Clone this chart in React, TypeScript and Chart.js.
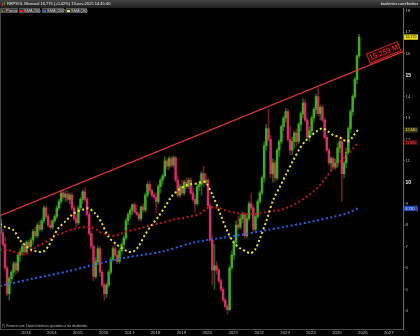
import React, { useEffect, useRef } from 'react';
import { Chart, registerables } from 'chart.js';

Chart.register(...registerables);

// ---- data (monthly candles, Jan 2012 .. Nov 2025) ----
const FIRST_YEAR = 2012;
const opens = [
  8.25, 7.65, 7.1, 6.0, 4.8, 5.5, 5.8, 6.2, 5.9, 6.6, 6.75, 7.0,
  6.75, 7.2, 7.0, 7.3, 7.7, 7.5, 8.0, 7.8, 8.2, 8.8, 8.4, 8.0,
  7.9, 8.2, 8.4, 8.8, 9.1, 9.5, 9.3, 9.45, 9.2, 9.4, 8.8, 8.3,
  8.1, 8.8, 9.2, 9.55, 9.2, 8.5, 7.6, 7.0, 5.6, 6.3, 6.9, 5.8,
  5.2, 4.8, 5.2, 5.8, 6.4, 6.9, 6.6, 6.3, 6.8, 7.1, 7.4, 8.2,
  8.5, 8.7, 8.95, 8.6, 8.5, 8.3, 8.85, 8.7, 9.4, 9.9, 9.6, 9.4,
  9.3, 9.1, 9.8, 10.1, 10.3, 11.0, 10.75, 11.1, 10.8, 11.15, 10.1, 9.4,
  9.8, 9.5, 10.0, 9.8, 10.1, 9.5, 9.2, 9.0, 9.8, 9.9, 10.4, 10.0,
  10.1, 8.9, 7.3, 5.9, 6.1, 5.9, 5.4, 5.0, 4.5, 4.2, 4.05, 6.0,
  6.6, 7.2, 8.0, 7.9, 8.3, 8.5, 7.5, 8.3, 9.0, 8.8, 7.8, 8.4,
  9.1, 9.5, 10.2, 11.7, 12.5, 12.0, 10.4, 10.9, 10.2, 11.5, 11.9, 12.6,
  13.0, 13.3, 12.0, 11.5, 11.9, 12.3, 11.9, 12.7, 13.2, 13.7, 12.9, 12.1,
  12.4, 13.0, 13.4, 14.0, 13.2, 13.5, 12.9, 12.1, 11.5, 10.9, 11.1, 10.7,
  10.9, 11.6, 11.9, 10.4, 10.9, 11.4, 12.5, 13.3, 14.0, 14.8, 15.9,
];
const highs = [
  8.5, 7.8, 7.45, 6.1, 5.6, 5.9, 6.3, 6.3, 6.7, 6.9, 7.1, 7.1,
  7.3, 7.3, 7.4, 7.8, 7.9, 8.1, 8.2, 8.3, 8.9, 8.9, 8.5, 8.2,
  8.25, 8.5, 8.9, 9.2, 9.6, 9.65, 9.6, 9.6, 9.5, 9.5, 8.9, 8.5,
  8.9, 9.3, 9.65, 9.75, 9.3, 8.6, 7.7, 7.1, 6.5, 7.0, 7.0, 5.9,
  5.3, 5.3, 5.9, 6.5, 7.0, 7.2, 6.8, 6.9, 7.2, 7.5, 8.3, 8.6,
  8.8, 9.0, 9.05, 8.95, 8.6, 8.9, 9.0, 9.5, 10.0, 10.05, 9.7, 9.5,
  9.5, 9.9, 10.2, 10.4, 11.2, 11.1, 11.2, 11.2, 11.25, 11.2, 10.3, 9.9,
  10.1, 10.1, 10.2, 10.2, 10.2, 9.8, 9.4, 9.9, 10.1, 10.5, 10.75, 10.4,
  10.2, 9.0, 7.5, 7.1, 6.3, 6.0, 5.5, 5.1, 4.6, 4.3, 6.1, 6.8,
  7.3, 8.2, 8.4, 8.5, 8.6, 8.6, 8.5, 9.1, 9.5, 8.9, 8.5, 9.2,
  9.6, 10.3, 11.9, 12.7, 13.4, 12.2, 11.1, 11.0, 11.6, 12.0, 12.7, 13.1,
  13.45, 13.4, 12.6, 12.1, 12.4, 12.5, 12.8, 13.3, 13.9, 13.85, 13.0, 12.6,
  13.1, 13.5, 14.1, 14.4, 13.6, 13.6, 13.0, 12.2, 11.6, 11.2, 11.2, 11.1,
  11.8, 12.0, 12.1, 11.0, 11.6, 12.6, 13.4, 14.1, 14.9, 15.95, 16.9,
];
const lows = [
  7.6, 7.0, 5.9, 4.7, 4.5, 5.3, 5.6, 5.7, 5.8, 6.3, 6.6, 6.6,
  6.7, 6.9, 6.9, 7.1, 7.4, 7.4, 7.7, 7.7, 8.1, 8.3, 7.9, 7.8,
  7.8, 8.1, 8.3, 8.7, 9.0, 9.2, 9.1, 9.1, 9.0, 8.7, 8.2, 7.9,
  8.0, 8.7, 9.0, 9.1, 8.4, 7.5, 6.9, 5.4, 5.5, 6.2, 5.6, 5.1,
  4.5, 4.6, 5.1, 5.7, 6.3, 6.5, 6.2, 6.2, 6.6, 6.9, 7.3, 8.0,
  8.3, 8.5, 8.55, 8.45, 8.2, 8.2, 8.6, 8.6, 9.3, 9.5, 9.3, 9.2,
  8.55, 9.0, 9.5, 9.9, 10.2, 10.6, 10.6, 10.7, 10.7, 10.0, 9.3, 9.3,
  9.4, 9.4, 9.7, 9.7, 9.4, 9.1, 8.6, 8.9, 9.6, 9.4, 9.8, 9.9,
  8.8, 7.2, 5.2, 5.0, 5.7, 5.3, 4.9, 4.4, 4.1, 3.85, 4.0, 5.9,
  6.4, 7.0, 7.8, 7.8, 8.1, 7.4, 7.4, 8.2, 8.7, 7.7, 7.7, 8.3,
  9.0, 9.4, 10.0, 11.5, 11.9, 10.2, 10.0, 10.0, 10.1, 11.2, 11.8, 12.4,
  12.8, 11.9, 11.3, 11.3, 11.6, 11.7, 11.8, 12.4, 13.0, 12.8, 12.0, 11.9,
  12.2, 12.8, 13.2, 13.1, 12.9, 12.8, 12.0, 11.4, 10.8, 10.5, 10.6, 10.6,
  10.7, 11.4, 9.1, 10.2, 10.7, 11.3, 12.3, 13.1, 13.9, 14.6, 15.8,
];
const closes = [
  7.65, 7.1, 6.0, 4.8, 5.5, 5.8, 6.2, 5.9, 6.6, 6.75, 7.0, 6.75,
  7.2, 7.0, 7.3, 7.7, 7.5, 8.0, 7.8, 8.2, 8.8, 8.4, 8.0, 7.9,
  8.2, 8.4, 8.8, 9.1, 9.5, 9.3, 9.45, 9.2, 9.4, 8.8, 8.3, 8.1,
  8.8, 9.2, 9.55, 9.2, 8.5, 7.6, 7.0, 5.6, 6.3, 6.9, 5.8, 5.2,
  4.8, 5.2, 5.8, 6.4, 6.9, 6.6, 6.3, 6.8, 7.1, 7.4, 8.2, 8.5,
  8.7, 8.95, 8.6, 8.5, 8.3, 8.85, 8.7, 9.4, 9.9, 9.6, 9.4, 9.3,
  9.1, 9.8, 10.1, 10.3, 11.0, 10.75, 11.1, 10.8, 11.15, 10.1, 9.4, 9.8,
  9.5, 10.0, 9.8, 10.1, 9.5, 9.2, 9.0, 9.8, 9.9, 10.4, 10.0, 10.1,
  8.9, 7.3, 5.9, 6.1, 5.9, 5.4, 5.0, 4.5, 4.2, 4.05, 6.0, 6.6,
  7.2, 8.0, 7.9, 8.3, 8.5, 7.5, 8.3, 9.0, 8.8, 7.8, 8.4, 9.1,
  9.5, 10.2, 11.7, 12.5, 12.0, 10.4, 10.9, 10.2, 11.5, 11.9, 12.6, 13.0,
  13.3, 12.0, 11.5, 11.9, 12.3, 11.9, 12.7, 13.2, 13.7, 12.9, 12.1, 12.4,
  13.0, 13.4, 14.0, 13.2, 13.5, 12.9, 12.1, 11.5, 10.9, 11.1, 10.7, 10.9,
  11.6, 11.9, 10.4, 10.9, 11.4, 12.5, 13.3, 14.0, 14.8, 15.9, 16.775,
];

// moving averages: time in years, value in EUR
const sma20X = [2012.0, 2012.19, 2012.51, 2012.77, 2013.03, 2013.22, 2013.48, 2013.67, 2013.86, 2014.06, 2014.25, 2014.51, 2014.77, 2014.96, 2015.21, 2015.41, 2015.67, 2015.92, 2016.18, 2016.44, 2016.7, 2016.95, 2017.14, 2017.34, 2017.59, 2017.85, 2018.11, 2018.37, 2018.62, 2018.88, 2019.14, 2019.4, 2019.65, 2019.84, 2019.97, 2020.23, 2020.49, 2020.75, 2021.0, 2021.26, 2021.52, 2021.65, 2021.84, 2022.03, 2022.29, 2022.54, 2022.8, 2023.06, 2023.32, 2023.57, 2023.77, 2023.96, 2024.23, 2024.46, 2024.67, 2024.86, 2025.05, 2025.18, 2025.38, 2025.57, 2025.7, 2025.82];
const sma20Y = [8.05, 7.92, 7.77, 7.3, 7.0, 6.84, 6.76, 6.76, 7.0, 7.46, 7.85, 8.16, 8.47, 8.62, 8.73, 8.78, 8.55, 8.1, 7.46, 7.15, 6.92, 6.76, 6.76, 7.0, 7.54, 8.0, 8.39, 8.86, 9.33, 9.64, 9.82, 9.92, 9.95, 10.03, 9.95, 9.33, 8.55, 7.77, 7.22, 6.92, 6.76, 6.68, 6.84, 7.38, 8.24, 9.17, 9.79, 10.42, 11.04, 11.58, 11.9, 12.13, 12.39, 12.52, 12.36, 12.2, 12.13, 12.05, 11.9, 12.05, 12.28, 12.44];
const sma50X = [2012.0, 2012.26, 2012.51, 2012.77, 2012.96, 2013.16, 2013.42, 2013.67, 2013.93, 2014.19, 2014.44, 2014.7, 2014.96, 2015.21, 2015.47, 2015.73, 2015.92, 2016.18, 2016.44, 2016.7, 2016.95, 2017.21, 2017.47, 2017.72, 2017.98, 2018.24, 2018.49, 2018.75, 2019.01, 2019.26, 2019.52, 2019.78, 2019.97, 2020.23, 2020.49, 2020.75, 2021.0, 2021.26, 2021.52, 2021.77, 2022.03, 2022.29, 2022.54, 2022.8, 2023.06, 2023.32, 2023.57, 2023.83, 2024.09, 2024.35, 2024.6, 2024.86, 2025.12, 2025.38, 2025.63, 2025.82];
const sma50Y = [6.87, 6.84, 6.76, 6.65, 6.65, 6.76, 7.0, 7.15, 7.34, 7.54, 7.64, 7.77, 7.85, 7.9, 7.9, 7.78, 7.64, 7.54, 7.49, 7.62, 7.72, 7.8, 7.88, 7.97, 8.05, 8.11, 8.19, 8.27, 8.32, 8.39, 8.44, 8.58, 8.78, 8.83, 8.78, 8.67, 8.6, 8.55, 8.52, 8.52, 8.55, 8.62, 8.67, 8.7, 8.81, 8.94, 9.12, 9.33, 9.56, 9.87, 10.26, 10.65, 10.96, 11.27, 11.58, 11.86];
const sma200X = [2012.0, 2013.27, 2014.58, 2015.86, 2016.94, 2018.25, 2019.52, 2020.99, 2022.3, 2023.57, 2024.85, 2025.38, 2025.81];
const sma200Y = [5.16, 5.5, 5.83, 6.22, 6.5, 6.76, 7.2, 7.48, 7.77, 8.05, 8.38, 8.55, 8.78];

// resistance trend line
const trendX = [2012.0, 2027.55];
const trendY = [8.44, 16.1];
const TREND_LABEL = '15,259 M';
const TREND_LABEL_AT = 2026.9;

const yearTicks = [2013, 2014, 2015, 2016, 2017, 2018, 2019, 2020, 2021, 2022, 2023, 2024, 2025, 2026, 2027];
const priceTicks = [4, 5, 6, 7, 8, 9, 10, 11, 12, 13, 14, 15, 16, 17, 18];
const LAST_PRICE = 16.775;

const TITLE = 'REPSOL Mensual 16,775 (+0,42%) 13-nov-2025 14:45:40';
const SOURCE = 'bankinter.com/broker';
const NOTE = '(*) Finance.com. Datos históricos ajustados a los dividendos.';

const GREEN = '#3cae1a';
const PINK = '#d82c66';
const GREEN_WICK = '#285e10';
const PINK_WICK = '#6e1632';
const YELLOW = '#ece41e';
const RED = '#c41414';
const BLUE = '#2062e6';
const TREND = '#e23434';
const FONT = '"Liberation Sans", Arial, sans-serif';

const fmt = (v: number) => v.toFixed(3).replace('.', ',');

export default function App() {
  const ref = useRef<HTMLCanvasElement | null>(null);

  useEffect(() => {
    document.body.style.margin = '0';
    document.body.style.background = '#000';
    const canvas = ref.current;
    if (!canvas) return;

    const monthTimes = closes.map((_, i) => FIRST_YEAR + (i + 0.3) / 12);
    const bodies = closes.map((c, i) => ({ x: monthTimes[i], y: [opens[i], c] }));
    const wicks = closes.map((_, i) => ({ x: monthTimes[i], y: [lows[i], highs[i]] }));
    const up = (i: number) => closes[i] >= opens[i];
    const pts = (xs: number[], ys: number[]) => xs.map((x, i) => ({ x, y: ys[i] }));

    const overlay = {
      id: 'overlay',
      afterDraw(chart: any) {
        const { ctx, chartArea, scales } = chart;
        const xs = scales.x;
        const ys = scales.y;
        ctx.save();
        ctx.strokeStyle = '#4a4a4a';
        ctx.lineWidth = 1;
        ctx.beginPath();
        ctx.moveTo(chartArea.left + 0.5, chartArea.top);
        ctx.lineTo(chartArea.left + 0.5, chartArea.bottom);
        ctx.stroke();

        const x1 = xs.getPixelForValue(trendX[0]);
        const y1 = ys.getPixelForValue(trendY[0]);
        const x2 = xs.getPixelForValue(trendX[1]);
        const y2 = ys.getPixelForValue(trendY[1]);
        const ang = Math.atan2(y2 - y1, x2 - x1);
        const ax = xs.getPixelForValue(TREND_LABEL_AT);
        const ay = y1 + ((y2 - y1) * (ax - x1)) / (x2 - x1);
        ctx.save();
        ctx.translate(ax, ay);
        ctx.rotate(ang);
        ctx.fillStyle = 'rgba(110,0,0,0.4)';
        ctx.fillRect(-16.5, -11.5, 33, 10);
        ctx.strokeStyle = '#c82626';
        ctx.lineWidth = 1;
        ctx.strokeRect(-16.5, -11.5, 33, 10);
        ctx.fillStyle = '#ec3838';
        ctx.font = `7.3px ${FONT}`;
        ctx.textAlign = 'center';
        ctx.textBaseline = 'middle';
        ctx.fillText(TREND_LABEL, 0, -6.2);
        ctx.restore();

        const tag = (v: number, text: string, bg: string, fg: string) => {
          const y = ys.getPixelForValue(v);
          const left = chartArea.right + 1;
          ctx.fillStyle = bg;
          ctx.fillRect(left, y - 2.7, 14, 5.4);
          ctx.fillStyle = fg;
          ctx.font = `3.6px ${FONT}`;
          ctx.textAlign = 'left';
          ctx.textBaseline = 'middle';
          ctx.fillText(text, left + 1.5, y + 0.2);
        };
        tag(sma200Y[sma200Y.length - 1], fmt(sma200Y[sma200Y.length - 1]), '#1e48b4', '#cfe0ff');
        tag(sma50Y[sma50Y.length - 1], fmt(sma50Y[sma50Y.length - 1]), '#4a0a0a', '#ff4a4a');
        tag(sma20Y[sma20Y.length - 1], fmt(sma20Y[sma20Y.length - 1]), '#35330a', '#f2ea40');
        tag(LAST_PRICE, fmt(LAST_PRICE), '#e0d21c', '#2a2400');
        ctx.restore();
      },
    };

    const chart = new Chart(canvas, {
      type: 'bar',
      data: {
        datasets: [
          { type: 'line', data: pts(trendX, trendY), borderColor: TREND, borderWidth: 1.3, pointRadius: 0, order: 0 },
          { type: 'line', data: pts(sma20X, sma20Y), borderColor: YELLOW, borderWidth: 2, borderDash: [2, 2.5], pointRadius: 0, tension: 0.3, order: 0 },
          { type: 'line', data: pts(sma50X, sma50Y), borderColor: RED, borderWidth: 2, borderDash: [2, 2.5], pointRadius: 0, tension: 0.3, order: 0 },
          { type: 'line', data: pts(sma200X, sma200Y), borderColor: BLUE, borderWidth: 2, borderDash: [2, 2.5], pointRadius: 0, tension: 0.3, order: 0 },
          {
            type: 'bar',
            data: bodies as any,
            backgroundColor: (c: any) => (up(c.dataIndex) ? GREEN : PINK),
            barThickness: 1.8,
            grouped: false,
            minBarLength: 1,
            borderWidth: 0,
            order: 1,
          } as any,
          {
            type: 'bar',
            data: wicks as any,
            backgroundColor: (c: any) => (up(c.dataIndex) ? GREEN_WICK : PINK_WICK),
            barThickness: 1,
            grouped: false,
            borderWidth: 0,
            order: 2,
          } as any,
        ],
      },
      options: {
        responsive: false,
        devicePixelRatio: 1,
        animation: false,
        events: [],
        layout: { padding: { top: 8, left: 0, right: 0, bottom: 0 } },
        plugins: { legend: { display: false }, tooltip: { enabled: false }, title: { display: false } },
        scales: {
          x: {
            type: 'linear',
            position: 'bottom',
            min: 2012.0,
            max: 2027.55,
            offset: false,
            grid: { display: false, drawTicks: false },
            border: { display: true, color: '#4a4a4a', width: 1 },
            afterBuildTicks: (s: any) => {
              s.ticks = yearTicks.map((v) => ({ value: v }));
            },
            ticks: {
              autoSkip: false,
              maxRotation: 0,
              padding: 1,
              color: '#c4c4c4',
              font: { size: 4.3, family: FONT },
              callback: (v: any) => String(v),
            },
            afterFit: (s: any) => {
              s.height = 7;
            },
          },
          y: {
            type: 'linear',
            position: 'right',
            min: 3.149,
            max: 18.134,
            grid: { display: true, drawOnChartArea: false, drawTicks: true, tickLength: 1.5, color: '#8a8a8a' },
            border: { display: true, color: '#6a6a6a', width: 1 },
            afterBuildTicks: (s: any) => {
              s.ticks = priceTicks.map((v) => ({ value: v }));
            },
            ticks: {
              padding: 1,
              autoSkip: false,
              color: (c: any) => (c.tick && (c.tick.value === 10 || c.tick.value === 15) ? '#f4f4f4' : '#b8b8b8'),
              font: (c: any) =>
                c.tick && (c.tick.value === 10 || c.tick.value === 15)
                  ? { size: 5, family: FONT, weight: 'bold' }
                  : { size: 4.3, family: FONT },
              callback: (v: any) => String(v),
            },
            afterFit: (s: any) => {
              s.width = 17;
            },
          },
        },
      } as any,
      plugins: [overlay],
    });

    return () => chart.destroy();
  }, []);

  const box = (left: number, width: number): React.CSSProperties => ({
    position: 'absolute',
    left,
    top: 8.3,
    width,
    height: 5.2,
    background: '#363636',
    border: '0.5px solid #555',
    boxSizing: 'border-box',
  });
  const text: React.CSSProperties = {
    position: 'absolute',
    fontFamily: FONT,
    whiteSpace: 'nowrap',
    lineHeight: 1,
  };
  const legend = [
    { label: 'SMA (50)', color: '#e01c1c', left: 19, width: 21 },
    { label: 'SMA (200)', color: '#2466f0', left: 42, width: 22 },
    { label: 'SMA (20)', color: '#f0e81e', left: 66, width: 21 },
  ];

  return (
    <div style={{ position: 'fixed', left: 0, top: 0, width: 420, height: 336, background: '#000', overflow: 'hidden' }}>
      <canvas ref={ref} width={420} height={336} style={{ position: 'absolute', left: 0, top: 0, width: 420, height: 336 }} />
      <div style={{ position: 'absolute', left: 0, top: 0, width: 420, height: 7.5, background: 'linear-gradient(#454545, #1e1e1e)' }} />
      <div style={{ position: 'absolute', left: 1.5, top: 3, width: 1.5, height: 3, background: PINK }} />
      <div style={{ position: 'absolute', left: 3.5, top: 1.5, width: 1.5, height: 3.5, background: GREEN }} />
      <div style={{ ...text, left: 7, top: 1.8, fontSize: 4, color: '#ececec' }}>{TITLE}</div>
      <div style={{ ...text, right: 2, top: 1.8, fontSize: 4, color: '#ececec' }}>{SOURCE}</div>

      <div style={box(1, 17)} />
      <div style={{ position: 'absolute', left: 2.3, top: 9.6, width: 1.2, height: 2.6, background: GREEN }} />
      <div style={{ position: 'absolute', left: 3.8, top: 9.6, width: 1.2, height: 2.6, background: PINK }} />
      <div style={{ ...text, left: 6, top: 9.1, fontSize: 4, color: '#d8d8d8' }}>Precio</div>
      {legend.map((l) => (
        <React.Fragment key={l.label}>
          <div style={box(l.left, l.width)} />
          <div style={{ position: 'absolute', left: l.left + 1.2, top: 9.6, width: 2.6, height: 2.6, background: l.color }} />
          <div style={{ ...text, left: l.left + 5, top: 9.1, fontSize: 4, color: '#d8d8d8' }}>{l.label}</div>
        </React.Fragment>
      ))}

      <div style={{ ...text, left: 2, top: 325.4, fontSize: 3.2, color: '#bdbdbd' }}>{NOTE}</div>
    </div>
  );
}
